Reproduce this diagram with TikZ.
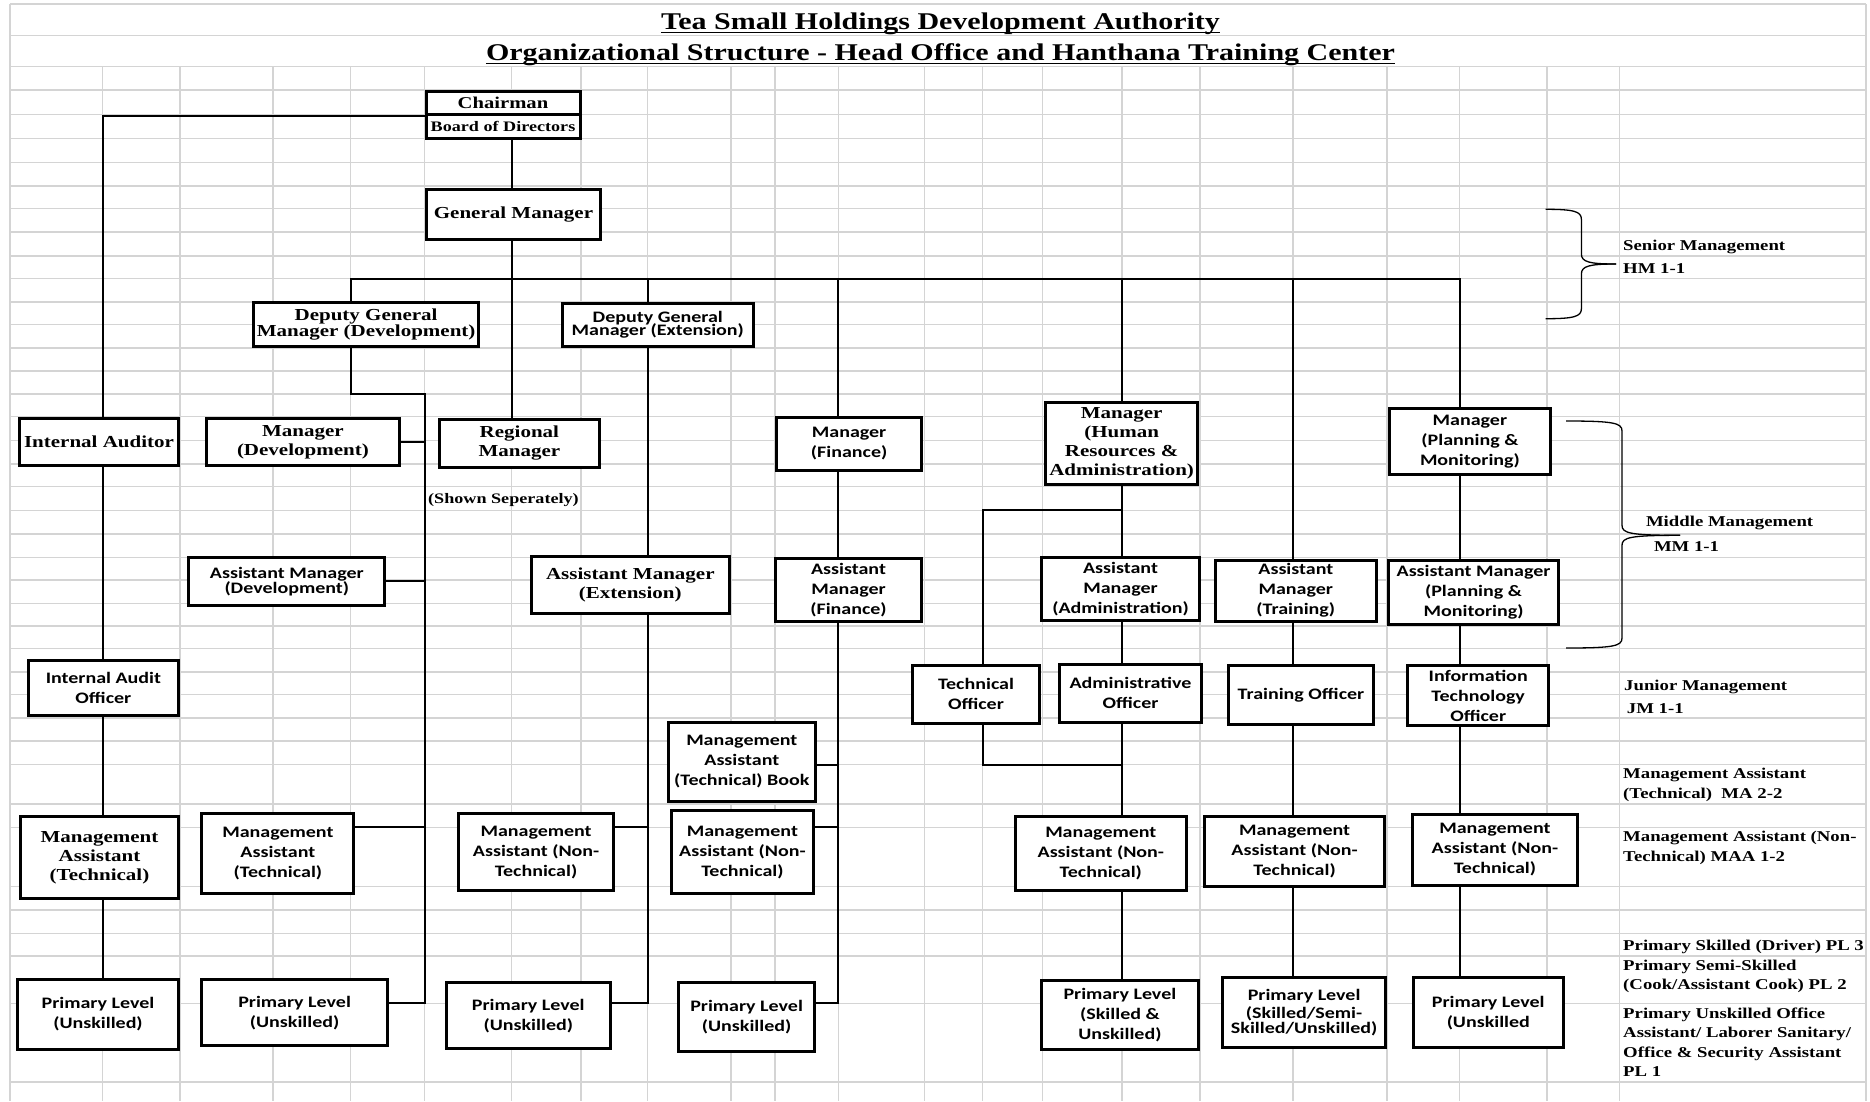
\documentclass[tikz,border=0pt]{standalone}
\usepackage{fontspec}
\usepackage{tikz}
\usetikzlibrary{positioning}
\newfontfamily\timesfont[FakeStretch=1.25]{Liberation Serif}
\newfontfamily\calibrifont[FakeStretch=1.25]{Carlito}
\definecolor{cellgray}{RGB}{212,212,212}

\begin{document}
\begin{tikzpicture}[x=1pt,y=-1pt,
		tbox/.style={draw,line width=3pt,fill=white,align=center,inner sep=1pt,
			font=\timesfont\bfseries\fontsize{16.8}{19}\selectfont},
		cbox/.style={draw,line width=3pt,fill=white,align=center,inner sep=1pt,
			font=\calibrifont\bfseries\fontsize{16}{20}\selectfont},
		link/.style={line width=2pt},
		bracket/.style={line width=1.3pt},
		sidenote/.style={anchor=west,inner sep=0pt,align=left,
			font=\timesfont\bfseries\fontsize{15}{19.5}\selectfont}]
			\useasboundingbox (0,0) rectangle (1870,1101);
			\fill[white] (0,0) rectangle (1870,1101);
			% sheet grid
			\foreach \r in {4,35.3,66.7,90,114.7,138.7,162.7,186,208.7,232,256,278.7,302,324.7,348,371,394,416.7,440.7,464,486.7,510.7,534,557.3,580,603.3,626,648.7,672,694.7,718,741,764.7,804,827.3,886.7,910,933.3,956,1003.3,1082}
				\draw[cellgray,line width=1.5pt] (10,\r) -- (1866,\r);
			\foreach \c in {102.6,180,273,350.6,424.6,511.6,580.8,647.6,731,775,838.4,924.3,982.7,1042.3,1122.2,1199.8,1292.8,1387,1459.7,1546.8,1619.5}
				\draw[cellgray,line width=1.5pt] (\c,66.7) -- (\c,1101);
			\draw[cellgray,line width=1.5pt] (10,4) -- (10,1101) (1866,4) -- (1866,1101);
			% title
			\node[inner sep=0pt,anchor=base,font=\timesfont\bfseries\fontsize{24}{28}\selectfont] (title1) at (940.5,29.3) {Tea Small Holdings Development Authority};
			\node[inner sep=0pt,anchor=base,font=\timesfont\bfseries\fontsize{24}{28}\selectfont] (title2) at (940.5,60) {Organizational Structure - Head Office and Hanthana Training Center};
			\draw[line width=1.5pt] ([yshift=-3.4pt]title1.base west) -- ([yshift=-3.4pt]title1.base east);
			\draw[line width=1.5pt] ([yshift=-3.4pt]title2.base west) -- ([yshift=-3.4pt]title2.base east);
			% columns and rows the lines run on
			\coordinate (colA) at (102.6,0);
			\coordinate (colD) at (350.6,0);
			\coordinate (colC) at (424.6,0);
			\coordinate (colG) at (511.6,0);
			\coordinate (colE) at (647.6,0);
			\coordinate (colF) at (838.4,0);
			\coordinate (colTO) at (982.7,0);
			\coordinate (colH) at (1122.2,0);
			\coordinate (colT) at (1292.8,0);
			\coordinate (colP) at (1459.7,0);
			\coordinate (bus) at (0,278.7);
			\coordinate (r394) at (0,394);
			\coordinate (rowhr) at (0,510);
			\coordinate (rowbook) at (0,764.7);
			\coordinate (rowma) at (0,826.7);
			\coordinate (rowpl) at (0,1002.7);
			% top
			\node[tbox,minimum width=154pt,minimum height=23.2pt,font=\timesfont\bfseries\fontsize{16.5}{19}\selectfont] (chair) at (503,103.1) {Chairman};
			\node[tbox,minimum width=154pt,minimum height=23.8pt,font=\timesfont\bfseries\fontsize{14.5}{17}\selectfont,below=-3pt of chair] (board) {Board of Directors};
			\node[tbox,minimum width=174.7pt,minimum height=50pt] (gm) at (513.5,214.2) {General Manager};
			\node[tbox,minimum width=224.8pt,minimum height=44pt] (dgmdev) at (366.1,324.5) {Deputy General\\[-2.3pt]Manager (Development)};
			\node[cbox,minimum width=191.5pt,minimum height=43pt] (dgmext) at (657.8,325) {Deputy General\\[-6.7pt]Manager (Extension)};
			% managers
			\node[tbox,minimum width=159pt,minimum height=47.6pt] (auditor) at (99,442) {Internal Auditor};
			\node[tbox,minimum width=192.7pt,minimum height=47.6pt] (mdev) at (302.9,442) {Manager\\(Development)};
			\node[tbox,minimum width=160.3pt,minimum height=48pt] (regional) at (519.4,443.2) {Regional\\Manager};
			\node[anchor=west,inner sep=0pt,font=\timesfont\bfseries\fontsize{14.5}{17}\selectfont] (shown) at (428,500) {(Shown Seperately)};
			\node[cbox,minimum width=144.8pt,minimum height=53pt] (mfin) at (849.1,444) {Manager\\(Finance)};
			\node[tbox,minimum width=152.1pt,minimum height=82.3pt] (mhr) at (1121.6,443.3) {Manager\\(Human\\Resources \&\\Administration)};
			\node[cbox,minimum width=160.4pt,minimum height=66.3pt] (mplan) at (1469.9,441.3) {Manager\\(Planning \&\\Monitoring)};
			% assistant managers
			\node[cbox,minimum width=196.2pt,minimum height=47.7pt] (amdev) at (286.8,581.3) {Assistant Manager\\[-4.7pt](Development)};
			\node[tbox,minimum width=198.5pt,minimum height=56.7pt] (amext) at (630.3,584.8) {Assistant Manager\\(Extension)};
			\node[cbox,minimum width=146pt,minimum height=62.4pt] (amfin) at (848.5,590) {Assistant\\Manager\\(Finance)};
			\node[cbox,minimum width=158pt,minimum height=62.7pt] (amadmin) at (1120.5,588.8) {Assistant\\Manager\\(Administration)};
			\node[cbox,minimum width=160.5pt,minimum height=61pt] (amtrain) at (1295.8,590.7) {Assistant\\Manager\\(Training)};
			\node[cbox,minimum width=170pt,minimum height=64.3pt] (amplan) at (1473.5,592.3) {Assistant Manager\\(Planning \&\\Monitoring)};
			% officers
			\node[cbox,minimum width=150.2pt,minimum height=54.4pt] (iaofficer) at (103.4,688) {Internal Audit\\Officer};
			\node[cbox,minimum width=127pt,minimum height=57.7pt] (techoff) at (976,694.3) {Technical\\Officer};
			\node[cbox,minimum width=142.5pt,minimum height=58.3pt] (adminoff) at (1130.5,693.3) {Administrative\\Officer};
			\node[cbox,minimum width=145pt,minimum height=59pt] (trainoff) at (1301,695) {Training Officer};
			\node[cbox,minimum width=141.4pt,minimum height=60.3pt] (itoff) at (1478.2,695.7) {Information\\Technology\\Officer};
			% management assistants
			\node[cbox,minimum width=147.3pt,minimum height=79.6pt] (mabook) at (741.8,762) {Management\\Assistant\\(Technical) Book};
			\node[tbox,minimum width=158pt,minimum height=82pt] (matech1) at (99.5,857.5) {Management\\Assistant\\(Technical)};
			\node[cbox,minimum width=152pt,minimum height=80pt] (matech2) at (277.9,853.8) {Management\\Assistant\\(Technical)};
			\node[cbox,minimum width=155.6pt,minimum height=76.7pt] (mantext) at (536.1,852.2) {Management\\Assistant (Non-\\Technical)};
			\node[cbox,minimum width=141.3pt,minimum height=83.3pt] (manfin) at (742.4,852.2) {Management\\Assistant (Non-\\Technical)};
			\node[cbox,minimum width=171.1pt,minimum height=73.7pt] (manhr) at (1100.8,853.7) {Management\\Assistant (Non-\\Technical)};
			\node[cbox,minimum width=179.5pt,minimum height=70.3pt] (mantrain) at (1294.6,851.3) {Management\\Assistant (Non-\\Technical)};
			\node[cbox,minimum width=165.2pt,minimum height=70.4pt] (manplan) at (1494.9,850) {Management\\Assistant (Non-\\Technical)};
			% primary level
			\node[cbox,minimum width=161pt,minimum height=69.7pt] (pl1) at (98,1014.3) {Primary Level\\(Unskilled)};
			\node[cbox,minimum width=185.4pt,minimum height=66.3pt] (pl2) at (294.6,1012.7) {Primary Level\\(Unskilled)};
			\node[cbox,minimum width=164pt,minimum height=65.7pt] (pl3) at (528.3,1015.7) {Primary Level\\(Unskilled)};
			\node[cbox,minimum width=135.3pt,minimum height=68.4pt] (pl4) at (746.6,1017) {Primary Level\\(Unskilled)};
			\node[cbox,minimum width=156.8pt,minimum height=69pt] (plhr) at (1119.9,1014.7) {Primary Level\\(Skilled \&\\Unskilled)};
			\node[cbox,minimum width=162.8pt,minimum height=70.3pt] (pltrain) at (1304.1,1012.7) {Primary Level\\[-2.7pt](Skilled/Semi-\\[-4.7pt]Skilled/Unskilled)};
			\node[cbox,minimum width=149.7pt,minimum height=70.3pt] (plplan) at (1488.3,1012.7) {Primary Level\\(Unskilled};
			% lines
			\draw[link] (chair.south west) -| (colA |- auditor.north);
			\draw[link] (colD |- dgmdev.north) |- (colP |- bus) -- (colP |- mplan.north);
			\foreach \c/\b in {colE/dgmext,colF/mfin,colH/mhr,colT/amtrain}
				\draw[link] (\c |- bus) -- (\c |- \b.north);
			\foreach \c/\a/\b in {colG/board/gm,colG/gm/regional,colA/auditor/iaofficer,colA/iaofficer/matech1,colA/matech1/pl1,colE/dgmext/amext,colF/mfin/amfin,colH/mhr/amadmin,colH/amadmin/adminoff,colH/adminoff/manhr,colH/manhr/plhr,colT/amtrain/trainoff,colT/trainoff/mantrain,colT/mantrain/pltrain,colP/mplan/amplan,colP/amplan/itoff,colP/itoff/manplan,colP/manplan/plplan}
				\draw[link] (\c |- \a.south) -- (\c |- \b.north);
			\draw[link] (colD |- dgmdev.south) |- (colC |- r394) -- (colC |- rowpl) -- (pl2.east |- rowpl);
			\foreach \b in {mdev,amdev}
				\draw[link] (\b.east) -- (colC |- \b.east);
			\draw[link] (matech2.east |- rowma) -- (colC |- rowma);
			\draw[link] (colE |- amext.south) -- (colE |- rowpl) -- (pl3.east |- rowpl);
			\draw[link] (mantext.east |- rowma) -- (colE |- rowma);
			\draw[link] (colF |- amfin.south) -- (colF |- rowpl) -- (pl4.east |- rowpl);
			\draw[link] (mabook.east |- rowbook) -- (colF |- rowbook);
			\draw[link] (manfin.east |- rowma) -- (colF |- rowma);
			\draw[link] (colH |- rowhr) -| (colTO |- techoff.north);
			\draw[link] (colTO |- techoff.south) |- (colH |- rowbook);
			% grade brackets
			\foreach \xa/\xb/\xc/\ya/\ym/\yb in {1545.6/1581.4/1616/209.3/264/318.7,1566/1622/1680/421/535.3/648}{
				\draw[bracket] (\xa,\ya) .. controls (\xb-8,\ya) and (\xb,\ya+2) .. (\xb,\ya+10) -- (\xb,\ym-10) .. controls (\xb,\ym-2) and (\xb+8,\ym) .. (\xc,\ym);
				\draw[bracket] (\xc,\ym) .. controls (\xb+8,\ym) and (\xb,\ym+2) .. (\xb,\ym+10) -- (\xb,\yb-10) .. controls (\xb,\yb-2) and (\xb-8,\yb) .. (\xa,\yb);
			}
			\node[sidenote] (senior) at (1623,257) {Senior Management\\[3.9pt]HM 1-1};
			\node[sidenote] (middle) at (1645.8,534) {Middle Management\\[5.9pt]\hspace{8pt}MM 1-1};
			\node[sidenote] (junior) at (1624,697) {Junior Management\\[3.9pt]\hspace{2.7pt}JM 1-1};
			\node[sidenote] (manote) at (1623,785) {Management Assistant\\(Technical)\ \ MA 2-2};
			\node[sidenote] (maanote) at (1623,847.7) {Management Assistant (Non-\\Technical) MAA 1-2};
			\node[sidenote] (plthree) at (1623,946.7) {Primary Skilled (Driver) PL 3};
			\node[sidenote] (pltwo) at (1623,976.4) {Primary Semi-Skilled\\(Cook/Assistant Cook) PL 2};
			\node[sidenote] (plone) at (1623,1042) {Primary Unskilled Office\\Assistant/ Laborer Sanitary/\\Office \& Security Assistant\\PL 1};
		\end{tikzpicture}
\end{document}
